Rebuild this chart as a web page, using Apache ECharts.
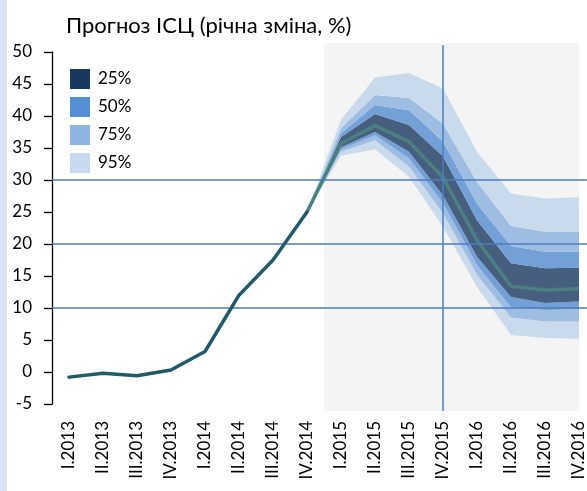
<!DOCTYPE html>
<html>
<head>
<meta charset="utf-8">
<script src="https://cdn.jsdelivr.net/npm/echarts@6/dist/echarts.min.js"></script>
<style>
  html, body { margin: 0; padding: 0; background: #fff; }
  #chart { width: 587px; height: 491px; }
</style>
</head>
<body>
<div id="chart"></div>
<script>
const categories = ['I.2013', 'II.2013', 'III.2013', 'IV.2013', 'I.2014', 'II.2014', 'III.2014', 'IV.2014',
  'I.2015', 'II.2015', 'III.2015', 'IV.2015', 'I.2016', 'II.2016', 'III.2016', 'IV.2016'];
// actual CPI, I.2013 - IV.2014
const actual = [-0.8, -0.2, -0.6, 0.3, 3.2, 12.0, 17.5, 25.0];
// forecast, IV.2014 - IV.2016
const forecastStart = 7;
const central = [25.0, 35.7, 38.5, 36.0, 30.4, 20.6, 13.4, 12.8, 13.0];
const hi95 = [25.0, 39.4, 46.0, 46.7, 44.3, 34.4, 27.9, 27.1, 27.3];
const hi75 = [25.0, 38.1, 43.3, 42.8, 38.8, 29.7, 22.8, 21.9, 21.9];
const hi50 = [25.0, 37.3, 41.7, 40.9, 36.0, 26.3, 19.7, 18.8, 18.8];
const hi25 = [25.0, 36.7, 40.3, 38.6, 33.7, 23.7, 17.0, 16.2, 16.3];
const lo25 = [25.0, 35.1, 37.5, 34.4, 27.6, 18.0, 11.7, 10.8, 11.0];
const lo50 = [25.0, 34.8, 37.0, 33.4, 26.4, 16.7, 10.1, 9.7, 9.8];
const lo75 = [25.0, 34.4, 36.2, 32.1, 24.8, 15.2, 8.5, 7.9, 7.9];
const lo95 = [25.0, 33.8, 34.8, 30.5, 22.7, 13.3, 5.8, 5.3, 5.2];
const gridLines = [10, 20, 30];
const legendNames = ['25%', '50%', '75%', '95%'];
const legendColors = ['#17375e', '#558ed5', '#8eb4e3', '#c6d9f1'];

const bandColor = {'25%': '#475f7f', '50%': '#72a0d7', '75%': '#9ebde2', '95%': '#cadaed'};
const font = 'Lato, "Noto Sans", sans-serif';

const pad = arr => categories.map((c, i) => i < forecastStart ? '-' : arr[i - forecastStart]);
const diff = (a, b) => pad(a.map((v, i) => +(v - b[i]).toFixed(2)));

function band(name, upper, lower) {
  return {
    name: name,
    type: 'line',
    stack: 'fan',
    data: diff(upper, lower),
    symbol: 'none',
    silent: true,
    z: 2,
    lineStyle: {width: 0, opacity: 0},
    itemStyle: {color: bandColor[name]},
    areaStyle: {color: bandColor[name], opacity: 1}
  };
}

let chart = echarts.init(document.getElementById('chart'));
chart.setOption({
  animation: false,
  backgroundColor: '#fff',
  title: {
    text: 'Прогноз ІСЦ (річна зміна, %)',
    left: 61,
    top: 10,
    textStyle: {fontFamily: font, fontSize: 22, fontWeight: 'normal', color: '#000'}
  },
  legend: {
    orient: 'vertical',
    left: 65,
    top: 64,
    itemWidth: 20,
    itemHeight: 20,
    itemGap: 8,
    icon: 'rect',
    textStyle: {fontFamily: font, fontSize: 17, color: '#000', padding: [0, 0, 0, 3]},
    data: legendNames.map((n, i) => ({name: n, itemStyle: {color: legendColors[i]}}))
  },
  // the plot runs past the right edge of the picture
  grid: {left: 52, width: 544, top: 52, bottom: 87, outerBoundsMode: 'none', containLabel: false},
  xAxis: {
    type: 'category',
    data: categories,
    axisLine: {show: false},
    axisTick: {show: false},
    axisLabel: {rotate: 90, interval: 0, margin: 17, fontFamily: font, fontSize: 17, color: '#000'}
  },
  yAxis: {
    type: 'value',
    min: -5,
    max: 50,
    interval: 5,
    axisLine: {show: true, lineStyle: {color: '#000', width: 1.3}},
    axisTick: {show: true, length: 8, lineStyle: {color: '#000', width: 1.3}},
    splitLine: {show: false},
    axisLabel: {margin: 20, fontFamily: font, fontSize: 17, color: '#000'}
  },
  series: [
    {
      name: 'base',
      type: 'line',
      stack: 'fan',
      data: pad(lo95),
      symbol: 'none',
      silent: true,
      lineStyle: {opacity: 0}
    },
    band('95%', lo75, lo95),
    band('75%', lo50, lo75),
    band('50%', lo25, lo50),
    band('25%', hi25, lo25),
    band('50%', hi50, hi25),
    band('75%', hi75, hi50),
    band('95%', hi95, hi75),
    {
      name: 'grid',
      type: 'line',
      data: [],
      z: 3,
      markLine: {
        silent: true,
        symbol: 'none',
        label: {show: false},
        lineStyle: {color: '#4a7dc2', width: 1.5, type: 'solid'},
        data: gridLines.map(v => ({yAxis: v}))
      }
    },
    {
      name: 'forecast',
      type: 'line',
      data: pad(central),
      symbol: 'none',
      z: 4,
      lineStyle: {color: '#4b7f80', width: 3.5}
    },
    {
      name: 'actual',
      type: 'line',
      data: actual,
      symbol: 'none',
      z: 5,
      lineStyle: {color: '#215b69', width: 3.5, join: 'round', cap: 'round'}
    }
  ]
});

// grey forecast area, vertical marker at IV.2015 and the left side stripe
const px = i => chart.convertToPixel({xAxisIndex: 0}, categories[i]);
const py = v => chart.convertToPixel({yAxisIndex: 0}, v);
const x0 = (px(forecastStart) + px(forecastStart + 1)) / 2;
const x1 = px(categories.length - 1);
const yTop = py(50) - 9;
const yBot = py(-5) + 7;
const xMark = px(categories.indexOf('IV.2015'));
chart.setOption({
  graphic: [
    {type: 'rect', z: -10, silent: true, shape: {x: 0, y: 0, width: 7, height: 491}, style: {fill: '#dae3f3'}},
    {type: 'rect', z: -10, silent: true, shape: {x: x0, y: yTop, width: x1 - x0, height: yBot - yTop}, style: {fill: '#f4f4f4'}},
    {type: 'line', z: 10, silent: true, shape: {x1: xMark, y1: yTop + 2, x2: xMark, y2: yBot}, style: {stroke: '#4a7dc2', lineWidth: 1.5}}
  ]
});
</script>
</body>
</html>
